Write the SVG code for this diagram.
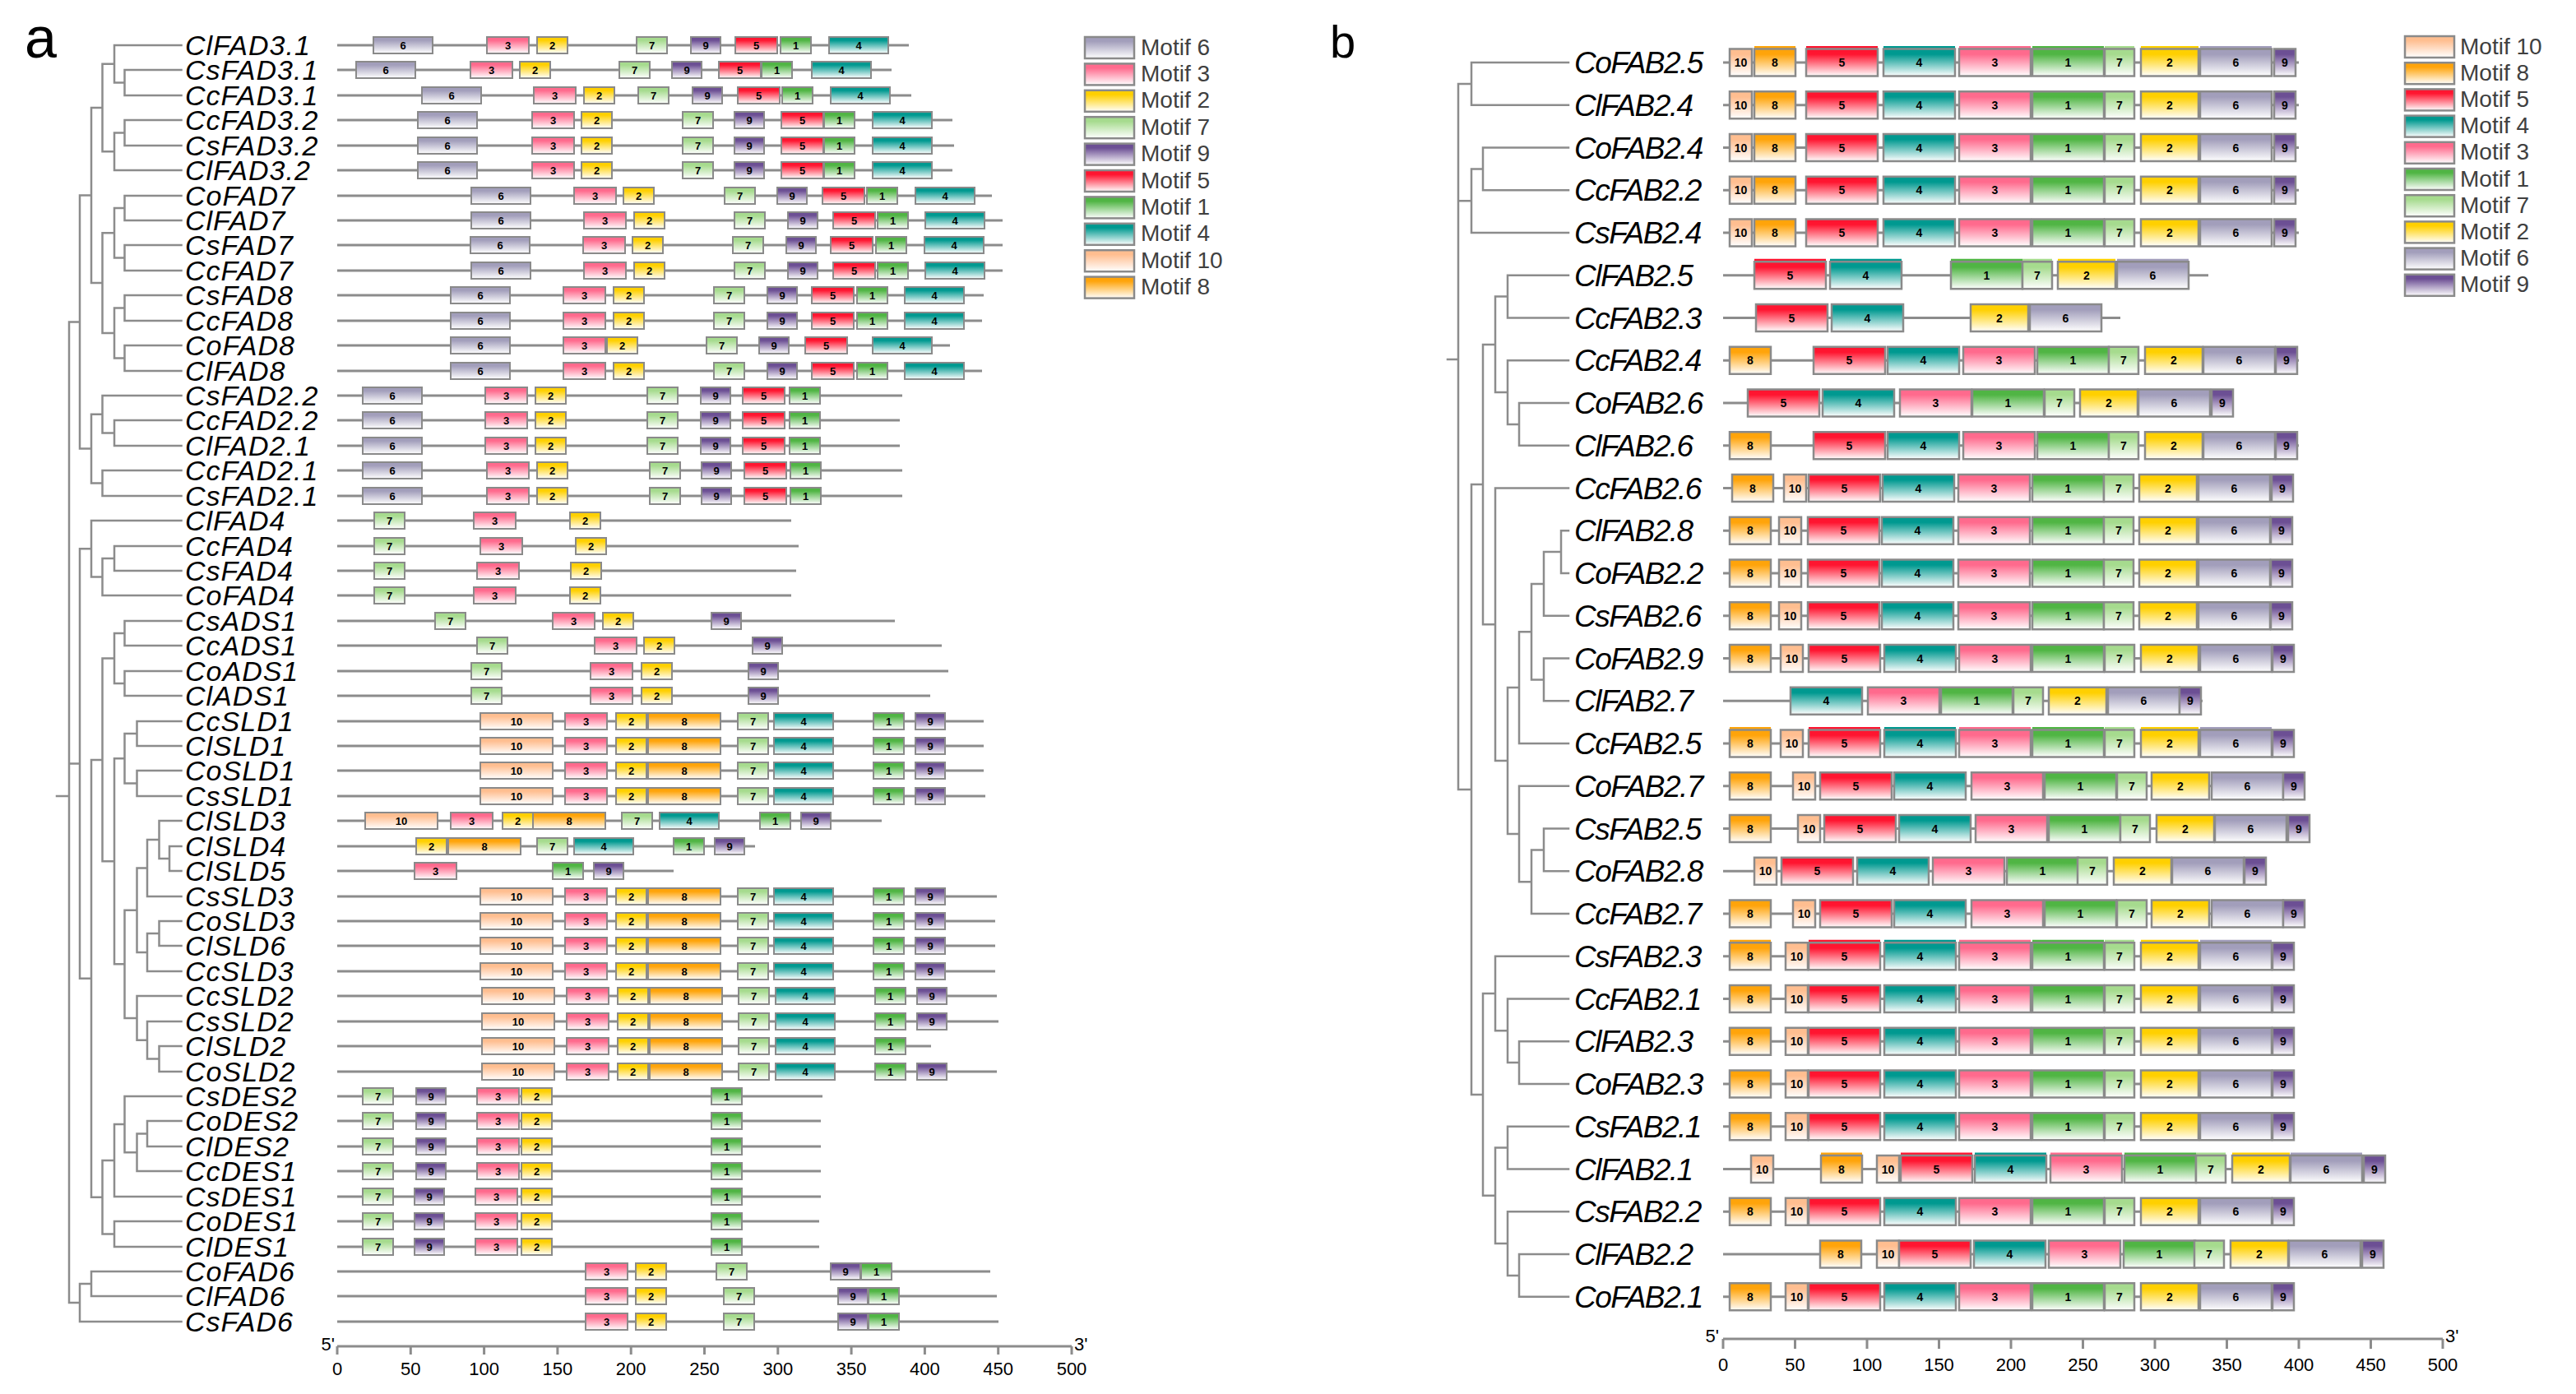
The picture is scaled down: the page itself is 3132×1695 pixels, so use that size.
<svg xmlns="http://www.w3.org/2000/svg" width="3132" height="1695" viewBox="0 0 3132 1695">
<style>
.la{font-family:"Liberation Sans",Arial,sans-serif;font-style:italic;font-size:34px;letter-spacing:1px;fill:#000}
.lb{font-family:"Liberation Sans",Arial,sans-serif;font-style:italic;font-size:37px;letter-spacing:-1.5px;fill:#000}
.lg{font-family:"Liberation Sans",Arial,sans-serif;font-size:28px;fill:#404040}
.ax{font-family:"Liberation Sans",Arial,sans-serif;font-size:22px;text-anchor:middle;fill:#000}
.ae{font-family:"Liberation Sans",Arial,sans-serif;font-size:22px;fill:#000}
.pl{font-family:"Liberation Sans",Arial,sans-serif;fill:#000}
.gl{stroke:#8c8c8c;stroke-width:3;fill:none}
.tr{stroke:#8c8c8c;stroke-width:2.5;fill:none;stroke-linecap:square}
.sw{stroke:#8a8a8a;stroke-width:2.5}
</style>
<defs>
<linearGradient id="g1" x1="0" y1="0" x2="0" y2="1"><stop offset="0" stop-color="#50b544"/><stop offset=".2" stop-color="#50b544"/><stop offset="1" stop-color="#fff"/></linearGradient>
<linearGradient id="g2" x1="0" y1="0" x2="0" y2="1"><stop offset="0" stop-color="#ffd000"/><stop offset=".2" stop-color="#ffd000"/><stop offset="1" stop-color="#fff"/></linearGradient>
<linearGradient id="g3" x1="0" y1="0" x2="0" y2="1"><stop offset="0" stop-color="#ff6a8d"/><stop offset=".2" stop-color="#ff6a8d"/><stop offset="1" stop-color="#fff"/></linearGradient>
<linearGradient id="g4" x1="0" y1="0" x2="0" y2="1"><stop offset="0" stop-color="#009990"/><stop offset=".2" stop-color="#009990"/><stop offset="1" stop-color="#fff"/></linearGradient>
<linearGradient id="g5" x1="0" y1="0" x2="0" y2="1"><stop offset="0" stop-color="#ff1530"/><stop offset=".2" stop-color="#ff1530"/><stop offset="1" stop-color="#fff"/></linearGradient>
<linearGradient id="g6" x1="0" y1="0" x2="0" y2="1"><stop offset="0" stop-color="#a29ebb"/><stop offset=".2" stop-color="#a29ebb"/><stop offset="1" stop-color="#fff"/></linearGradient>
<linearGradient id="g7" x1="0" y1="0" x2="0" y2="1"><stop offset="0" stop-color="#a6db8e"/><stop offset=".2" stop-color="#a6db8e"/><stop offset="1" stop-color="#fff"/></linearGradient>
<linearGradient id="g8" x1="0" y1="0" x2="0" y2="1"><stop offset="0" stop-color="#ffa40a"/><stop offset=".2" stop-color="#ffa40a"/><stop offset="1" stop-color="#fff"/></linearGradient>
<linearGradient id="g9" x1="0" y1="0" x2="0" y2="1"><stop offset="0" stop-color="#6c4f94"/><stop offset=".2" stop-color="#6c4f94"/><stop offset="1" stop-color="#fff"/></linearGradient>
<linearGradient id="g10" x1="0" y1="0" x2="0" y2="1"><stop offset="0" stop-color="#ffbe90"/><stop offset=".2" stop-color="#ffbe90"/><stop offset="1" stop-color="#fff"/></linearGradient>
<g id="A1" font-family="Liberation Sans, Arial, sans-serif" font-weight="bold" font-size="13" text-anchor="middle"><rect y="-10" width="37" height="20" fill="url(#g1)" stroke="#8a8a8a" stroke-width="2"/><text x="18.5" y="4.5">1</text></g>
<g id="A2" font-family="Liberation Sans, Arial, sans-serif" font-weight="bold" font-size="13" text-anchor="middle"><rect y="-10" width="37" height="20" fill="url(#g2)" stroke="#8a8a8a" stroke-width="2"/><text x="18.5" y="4.5">2</text></g>
<g id="A3" font-family="Liberation Sans, Arial, sans-serif" font-weight="bold" font-size="13" text-anchor="middle"><rect y="-10" width="51" height="20" fill="url(#g3)" stroke="#8a8a8a" stroke-width="2"/><text x="25.5" y="4.5">3</text></g>
<g id="A4" font-family="Liberation Sans, Arial, sans-serif" font-weight="bold" font-size="13" text-anchor="middle"><rect y="-10" width="72" height="20" fill="url(#g4)" stroke="#8a8a8a" stroke-width="2"/><text x="36" y="4.5">4</text></g>
<g id="A5" font-family="Liberation Sans, Arial, sans-serif" font-weight="bold" font-size="13" text-anchor="middle"><rect y="-10" width="51" height="20" fill="url(#g5)" stroke="#8a8a8a" stroke-width="2"/><text x="25.5" y="4.5">5</text></g>
<g id="A6" font-family="Liberation Sans, Arial, sans-serif" font-weight="bold" font-size="13" text-anchor="middle"><rect y="-10" width="72" height="20" fill="url(#g6)" stroke="#8a8a8a" stroke-width="2"/><text x="36" y="4.5">6</text></g>
<g id="A7" font-family="Liberation Sans, Arial, sans-serif" font-weight="bold" font-size="13" text-anchor="middle"><rect y="-10" width="37" height="20" fill="url(#g7)" stroke="#8a8a8a" stroke-width="2"/><text x="18.5" y="4.5">7</text></g>
<g id="A8" font-family="Liberation Sans, Arial, sans-serif" font-weight="bold" font-size="13" text-anchor="middle"><rect y="-10" width="88" height="20" fill="url(#g8)" stroke="#8a8a8a" stroke-width="2"/><text x="44" y="4.5">8</text></g>
<g id="A9" font-family="Liberation Sans, Arial, sans-serif" font-weight="bold" font-size="13" text-anchor="middle"><rect y="-10" width="36" height="20" fill="url(#g9)" stroke="#8a8a8a" stroke-width="2"/><text x="18" y="4.5">9</text></g>
<g id="A10" font-family="Liberation Sans, Arial, sans-serif" font-weight="bold" font-size="13" text-anchor="middle"><rect y="-10" width="88" height="20" fill="url(#g10)" stroke="#8a8a8a" stroke-width="2"/><text x="44" y="4.5">10</text></g>
<g id="B1" font-family="Liberation Sans, Arial, sans-serif" font-weight="bold" font-size="14" text-anchor="middle"><rect y="-16.5" width="87" height="33" fill="url(#g1)" stroke="#8a8a8a" stroke-width="2.5"/><text x="43.5" y="5">1</text></g>
<g id="B2" font-family="Liberation Sans, Arial, sans-serif" font-weight="bold" font-size="14" text-anchor="middle"><rect y="-16.5" width="70" height="33" fill="url(#g2)" stroke="#8a8a8a" stroke-width="2.5"/><text x="35" y="5">2</text></g>
<g id="B3" font-family="Liberation Sans, Arial, sans-serif" font-weight="bold" font-size="14" text-anchor="middle"><rect y="-16.5" width="87" height="33" fill="url(#g3)" stroke="#8a8a8a" stroke-width="2.5"/><text x="43.5" y="5">3</text></g>
<g id="B4" font-family="Liberation Sans, Arial, sans-serif" font-weight="bold" font-size="14" text-anchor="middle"><rect y="-16.5" width="87" height="33" fill="url(#g4)" stroke="#8a8a8a" stroke-width="2.5"/><text x="43.5" y="5">4</text></g>
<g id="B5" font-family="Liberation Sans, Arial, sans-serif" font-weight="bold" font-size="14" text-anchor="middle"><rect y="-16.5" width="87" height="33" fill="url(#g5)" stroke="#8a8a8a" stroke-width="2.5"/><text x="43.5" y="5">5</text></g>
<g id="B6" font-family="Liberation Sans, Arial, sans-serif" font-weight="bold" font-size="14" text-anchor="middle"><rect y="-16.5" width="87" height="33" fill="url(#g6)" stroke="#8a8a8a" stroke-width="2.5"/><text x="43.5" y="5">6</text></g>
<g id="B7" font-family="Liberation Sans, Arial, sans-serif" font-weight="bold" font-size="14" text-anchor="middle"><rect y="-16.5" width="36" height="33" fill="url(#g7)" stroke="#8a8a8a" stroke-width="2.5"/><text x="18" y="5">7</text></g>
<g id="B8" font-family="Liberation Sans, Arial, sans-serif" font-weight="bold" font-size="14" text-anchor="middle"><rect y="-16.5" width="50" height="33" fill="url(#g8)" stroke="#8a8a8a" stroke-width="2.5"/><text x="25" y="5">8</text></g>
<g id="B9" font-family="Liberation Sans, Arial, sans-serif" font-weight="bold" font-size="14" text-anchor="middle"><rect y="-16.5" width="26" height="33" fill="url(#g9)" stroke="#8a8a8a" stroke-width="2.5"/><text x="13" y="5">9</text></g>
<g id="B10" font-family="Liberation Sans, Arial, sans-serif" font-weight="bold" font-size="14" text-anchor="middle"><rect y="-16.5" width="27" height="33" fill="url(#g10)" stroke="#8a8a8a" stroke-width="2.5"/><text x="13.5" y="5">10</text></g>
<rect id="S1" y="-20" width="87" height="3" fill="#50b544"/>
<rect id="S2" y="-20" width="70" height="3" fill="#ffd000"/>
<rect id="S3" y="-20" width="87" height="3" fill="#ff6a8d"/>
<rect id="S4" y="-20" width="87" height="3" fill="#009990"/>
<rect id="S5" y="-20" width="87" height="3" fill="#ff1530"/>
<rect id="S6" y="-20" width="87" height="3" fill="#a29ebb"/>
<rect id="S7" y="-20" width="36" height="3" fill="#a6db8e"/>
<rect id="S8" y="-20" width="50" height="3" fill="#ffa40a"/>
</defs>
<rect width="3132" height="1695" fill="#fff"/>
<text class="pl" x="30" y="70" font-size="70">a</text>
<text class="pl" x="1617" y="70" font-size="56">b</text>

<g id="connectors">
<path id="tree-a" class="tr" d="M139 55H220.5M151.5 85H220.5M151.5 116H220.5M151.5 146H220.5M151.5 177H220.5M139 207H220.5M151.5 238H220.5M151.5 268H220.5M151.5 298H220.5M151.5 329H220.5M151.5 359H220.5M151.5 390H220.5M151.5 420H220.5M151.5 451H220.5M124.5 481H220.5M139 511H220.5M139 542H220.5M124.5 572H220.5M124.5 603H220.5M111 633H220.5M139 664H220.5M139 694H220.5M124.5 724H220.5M151.5 755H220.5M151.5 785H220.5M151.5 816H220.5M151.5 846H220.5M166.5 877H220.5M166.5 907H220.5M166.5 937H220.5M166.5 968H220.5M193.5 998H220.5M206 1029H220.5M206 1059H220.5M179 1090H220.5M193.5 1120H220.5M193.5 1150H220.5M179 1181H220.5M166.5 1211H220.5M179 1242H220.5M193.5 1272H220.5M193.5 1303H220.5M151.5 1333H220.5M179 1363H220.5M179 1394H220.5M166.5 1424H220.5M139 1455H220.5M139 1485H220.5M139 1516H220.5M111 1546H220.5M111 1576H220.5M97 1607H220.5
M151.5 85V116M139 100.5H151.5M139 55V100.5M124.5 77.75H139M151.5 146V177M139 161.5H151.5M139 161.5V207M124.5 184.25H139M124.5 77.75V184.25M111 131H124.5
M151.5 238V268M139 253H151.5M151.5 298V329M139 313.5H151.5M139 253V313.5M124.5 283.25H139M151.5 359V390M139 374.5H151.5M151.5 420V451M139 435.5H151.5M139 374.5V435.5M124.5 405H139M124.5 283.25V405M111 344.1H124.5M111 131V344.1M97 237.6H111
M139 511V542M124.5 526.5H139M124.5 481V526.5M111 503.75H124.5M124.5 572V603M111 587.5H124.5M111 503.75V587.5M97 545.6H111M97 237.6V545.6M84 391.6H97
M139 664V694M124.5 679H139M124.5 679V724M111 701.5H124.5M111 633V701.5M97 667.25H111
M151.5 755V785M139 770H151.5M151.5 816V846M139 831H151.5M139 770V831M124.5 800.5H139
M166.5 877V907M151.5 892H166.5M166.5 937V968M151.5 952.5H166.5M151.5 892V952.5M139 922.25H151.5
M206 1029V1059M193.5 1044H206M193.5 998V1044M179 1021H193.5M179 1021V1090M166.5 1055.5H179M193.5 1120V1150M179 1135H193.5M179 1135V1181M166.5 1158H179M166.5 1055.5V1158M151.5 1106.75H166.5
M193.5 1272V1303M179 1287.5H193.5M179 1242V1287.5M166.5 1264.75H179M166.5 1211V1264.75M151.5 1237.9H166.5M151.5 1106.75V1237.9M139 1172.3H151.5M139 922.25V1172.3M124.5 1047.3H139M124.5 800.5V1047.3M111 923.9H124.5
M179 1363V1394M166.5 1378.5H179M166.5 1378.5V1424M151.5 1401.25H166.5M151.5 1333V1401.25M139 1367.1H151.5M139 1367.1V1455M124.5 1411H139M139 1485V1516M124.5 1500.5H139M124.5 1411V1500.5M111 1455.75H124.5M111 923.9V1455.75M97 1189.8H111M97 667.25V1189.8M84 928.5H97
M111 1546V1576M97 1561H111M97 1561V1607M84 1584H97M84 391.6V1584M69 968H84"/>
<path id="tree-b" class="tr" d="M1789 76H1907M1789 127.75H1907M1803 179.5H1907M1803 231.25H1907M1789 283H1907M1833 334.75H1907M1833 386.5H1907M1833 438.25H1907M1847 490H1907M1847 541.75H1907M1818 593.5H1907M1898 645.25H1907M1898 697H1907M1877 748.75H1907M1877 800.5H1907M1877 852.25H1907M1847 904H1907M1847 955.75H1907M1877 1007.5H1907M1877 1059.25H1907M1862 1111H1907M1818 1162.75H1907M1833 1214.5H1907M1847 1266.25H1907M1847 1318H1907M1833 1369.75H1907M1833 1421.5H1907M1833 1473.25H1907M1847 1525H1907M1847 1576.75H1907
M1789 76V127.75M1773 101.9H1789M1803 179.5V231.25M1789 205.4H1803M1789 205.4V283M1773 244.2H1789
M1833 334.75V386.5M1818 360.6H1833M1847 490V541.75M1833 515.9H1847M1833 438.25V515.9M1818 477.1H1833M1818 360.6V477.1M1803 418.9H1818
M1898 645.25V697M1877 671.1H1898M1877 671.1V748.75M1862 709.9H1877M1877 800.5V852.25M1862 826.4H1877M1862 709.9V826.4M1847 768.2H1862M1847 768.2V904M1833 836.1H1847
M1877 1007.5V1059.25M1862 1033.4H1877M1862 1033.4V1111M1847 1072.2H1862M1847 955.75V1072.2M1833 1014H1847M1833 836.1V1014M1818 925H1833M1818 593.5V925M1803 759.3H1818M1803 418.9V759.3M1789 589.1H1803
M1847 1266.25V1318M1833 1292.1H1847M1833 1214.5V1292.1M1818 1253.3H1833M1818 1162.75V1253.3M1803 1208H1818
M1833 1369.75V1421.5M1818 1395.6H1833M1847 1525V1576.75M1833 1550.9H1847M1833 1473.25V1550.9M1818 1512.1H1833M1818 1395.6V1512.1M1803 1453.8H1818M1803 1208V1453.8M1789 1330.9H1803
M1789 589.1V1330.9M1773 960H1789M1773 101.9V960M1760 437H1773"/>
</g>

<g id="panel-a">
<g id="a01" transform="translate(0,55)"><text class="la" x="225" y="12">ClFAD3.1</text><path class="gl" d="M410 0H1105"/><use href="#A6" x="454"/><use href="#A3" x="592"/><use href="#A2" x="653"/><use href="#A7" x="774"/><use href="#A9" x="840"/><use href="#A5" x="894"/><use href="#A1" x="949"/><use href="#A4" x="1008"/></g>
<g id="a02" transform="translate(0,85)"><text class="la" x="225" y="12">CsFAD3.1</text><path class="gl" d="M410 0H1084"/><use href="#A6" x="433"/><use href="#A3" x="572"/><use href="#A2" x="632"/><use href="#A7" x="753"/><use href="#A9" x="817"/><use href="#A5" x="874"/><use href="#A1" x="926"/><use href="#A4" x="987"/></g>
<g id="a03" transform="translate(0,116)"><text class="la" x="225" y="12">CcFAD3.1</text><path class="gl" d="M410 0H1108"/><use href="#A6" x="513"/><use href="#A3" x="649"/><use href="#A2" x="710"/><use href="#A7" x="776"/><use href="#A9" x="842"/><use href="#A5" x="897"/><use href="#A1" x="951"/><use href="#A4" x="1010"/></g>
<g id="a04" transform="translate(0,146)"><text class="la" x="225" y="12">CcFAD3.2</text><path class="gl" d="M410 0H1158"/><use href="#A6" x="508"/><use href="#A3" x="647"/><use href="#A2" x="707"/><use href="#A7" x="830"/><use href="#A9" x="893"/><use href="#A5" x="950"/><use href="#A1" x="1002"/><use href="#A4" x="1061"/></g>
<g id="a05" transform="translate(0,177)"><text class="la" x="225" y="12">CsFAD3.2</text><path class="gl" d="M410 0H1160"/><use href="#A6" x="508"/><use href="#A3" x="647"/><use href="#A2" x="707"/><use href="#A7" x="830"/><use href="#A9" x="893"/><use href="#A5" x="950"/><use href="#A1" x="1002"/><use href="#A4" x="1061"/></g>
<g id="a06" transform="translate(0,207)"><text class="la" x="225" y="12">ClFAD3.2</text><path class="gl" d="M410 0H1158"/><use href="#A6" x="508"/><use href="#A3" x="647"/><use href="#A2" x="707"/><use href="#A7" x="830"/><use href="#A9" x="893"/><use href="#A5" x="950"/><use href="#A1" x="1002"/><use href="#A4" x="1061"/></g>
<g id="a07" transform="translate(0,238)"><text class="la" x="225" y="12">CoFAD7</text><path class="gl" d="M410 0H1206"/><use href="#A6" x="573"/><use href="#A3" x="698"/><use href="#A2" x="758"/><use href="#A7" x="881"/><use href="#A9" x="945"/><use href="#A5" x="1000"/><use href="#A1" x="1054"/><use href="#A4" x="1113"/></g>
<g id="a08" transform="translate(0,268)"><text class="la" x="225" y="12">ClFAD7</text><path class="gl" d="M410 0H1219"/><use href="#A6" x="573"/><use href="#A3" x="710"/><use href="#A2" x="771"/><use href="#A7" x="893"/><use href="#A9" x="958"/><use href="#A5" x="1013"/><use href="#A1" x="1067"/><use href="#A4" x="1125"/></g>
<g id="a09" transform="translate(0,298)"><text class="la" x="225" y="12">CsFAD7</text><path class="gl" d="M410 0H1219"/><use href="#A6" x="572"/><use href="#A3" x="709"/><use href="#A2" x="769"/><use href="#A7" x="891"/><use href="#A9" x="956"/><use href="#A5" x="1010"/><use href="#A1" x="1065"/><use href="#A4" x="1124"/></g>
<g id="a10" transform="translate(0,329)"><text class="la" x="225" y="12">CcFAD7</text><path class="gl" d="M410 0H1219"/><use href="#A6" x="573"/><use href="#A3" x="710"/><use href="#A2" x="771"/><use href="#A7" x="893"/><use href="#A9" x="958"/><use href="#A5" x="1013"/><use href="#A1" x="1067"/><use href="#A4" x="1125"/></g>
<g id="a11" transform="translate(0,359)"><text class="la" x="225" y="12">CsFAD8</text><path class="gl" d="M410 0H1196"/><use href="#A6" x="548"/><use href="#A3" x="685"/><use href="#A2" x="746"/><use href="#A7" x="868"/><use href="#A9" x="933"/><use href="#A5" x="987"/><use href="#A1" x="1042"/><use href="#A4" x="1100"/></g>
<g id="a12" transform="translate(0,390)"><text class="la" x="225" y="12">CcFAD8</text><path class="gl" d="M410 0H1194"/><use href="#A6" x="548"/><use href="#A3" x="685"/><use href="#A2" x="746"/><use href="#A7" x="868"/><use href="#A9" x="933"/><use href="#A5" x="987"/><use href="#A1" x="1042"/><use href="#A4" x="1100"/></g>
<g id="a13" transform="translate(0,420)"><text class="la" x="225" y="12">CoFAD8</text><path class="gl" d="M410 0H1155"/><use href="#A6" x="548"/><use href="#A3" x="685"/><use href="#A2" x="738"/><use href="#A7" x="859"/><use href="#A9" x="923"/><use href="#A5" x="979"/><use href="#A4" x="1061"/></g>
<g id="a14" transform="translate(0,451)"><text class="la" x="225" y="12">ClFAD8</text><path class="gl" d="M410 0H1194"/><use href="#A6" x="548"/><use href="#A3" x="685"/><use href="#A2" x="746"/><use href="#A7" x="868"/><use href="#A9" x="933"/><use href="#A5" x="987"/><use href="#A1" x="1042"/><use href="#A4" x="1100"/></g>
<g id="a15" transform="translate(0,481)"><text class="la" x="225" y="12">CsFAD2.2</text><path class="gl" d="M410 0H1097"/><use href="#A6" x="441"/><use href="#A3" x="590"/><use href="#A2" x="651"/><use href="#A7" x="787"/><use href="#A9" x="852"/><use href="#A5" x="903"/><use href="#A1" x="960"/></g>
<g id="a16" transform="translate(0,511)"><text class="la" x="225" y="12">CcFAD2.2</text><path class="gl" d="M410 0H1094"/><use href="#A6" x="441"/><use href="#A3" x="590"/><use href="#A2" x="651"/><use href="#A7" x="787"/><use href="#A9" x="852"/><use href="#A5" x="903"/><use href="#A1" x="960"/></g>
<g id="a17" transform="translate(0,542)"><text class="la" x="225" y="12">ClFAD2.1</text><path class="gl" d="M410 0H1094"/><use href="#A6" x="441"/><use href="#A3" x="590"/><use href="#A2" x="651"/><use href="#A7" x="787"/><use href="#A9" x="852"/><use href="#A5" x="903"/><use href="#A1" x="960"/></g>
<g id="a18" transform="translate(0,572)"><text class="la" x="225" y="12">CcFAD2.1</text><path class="gl" d="M410 0H1097"/><use href="#A6" x="441"/><use href="#A3" x="592"/><use href="#A2" x="653"/><use href="#A7" x="790"/><use href="#A9" x="853"/><use href="#A5" x="905"/><use href="#A1" x="961"/></g>
<g id="a19" transform="translate(0,603)"><text class="la" x="225" y="12">CsFAD2.1</text><path class="gl" d="M410 0H1097"/><use href="#A6" x="441"/><use href="#A3" x="592"/><use href="#A2" x="653"/><use href="#A7" x="790"/><use href="#A9" x="853"/><use href="#A5" x="905"/><use href="#A1" x="961"/></g>
<g id="a20" transform="translate(0,633)"><text class="la" x="225" y="12">ClFAD4</text><path class="gl" d="M410 0H962"/><use href="#A7" x="455"/><use href="#A3" x="576"/><use href="#A2" x="693"/></g>
<g id="a21" transform="translate(0,664)"><text class="la" x="225" y="12">CcFAD4</text><path class="gl" d="M410 0H971"/><use href="#A7" x="455"/><use href="#A3" x="584"/><use href="#A2" x="700"/></g>
<g id="a22" transform="translate(0,694)"><text class="la" x="225" y="12">CsFAD4</text><path class="gl" d="M410 0H968"/><use href="#A7" x="455"/><use href="#A3" x="580"/><use href="#A2" x="694"/></g>
<g id="a23" transform="translate(0,724)"><text class="la" x="225" y="12">CoFAD4</text><path class="gl" d="M410 0H962"/><use href="#A7" x="455"/><use href="#A3" x="576"/><use href="#A2" x="693"/></g>
<g id="a24" transform="translate(0,755)"><text class="la" x="225" y="12">CsADS1</text><path class="gl" d="M410 0H1088"/><use href="#A7" x="529"/><use href="#A3" x="672"/><use href="#A2" x="733"/><use href="#A9" x="865"/></g>
<g id="a25" transform="translate(0,785)"><text class="la" x="225" y="12">CcADS1</text><path class="gl" d="M410 0H1145"/><use href="#A7" x="580"/><use href="#A3" x="723"/><use href="#A2" x="783"/><use href="#A9" x="915"/></g>
<g id="a26" transform="translate(0,816)"><text class="la" x="225" y="12">CoADS1</text><path class="gl" d="M410 0H1153"/><use href="#A7" x="573"/><use href="#A3" x="718"/><use href="#A2" x="780"/><use href="#A9" x="910"/></g>
<g id="a27" transform="translate(0,846)"><text class="la" x="225" y="12">ClADS1</text><path class="gl" d="M410 0H1131"/><use href="#A7" x="573"/><use href="#A3" x="718"/><use href="#A2" x="780"/><use href="#A9" x="910"/></g>
<g id="a28" transform="translate(0,877)"><text class="la" x="225" y="12">CcSLD1</text><path class="gl" d="M410 0H1196"/><use href="#A10" x="584"/><use href="#A3" x="687"/><use href="#A2" x="749"/><use href="#A8" x="788"/><use href="#A7" x="897"/><use href="#A4" x="941"/><use href="#A1" x="1062"/><use href="#A9" x="1113"/></g>
<g id="a29" transform="translate(0,907)"><text class="la" x="225" y="12">ClSLD1</text><path class="gl" d="M410 0H1196"/><use href="#A10" x="584"/><use href="#A3" x="687"/><use href="#A2" x="749"/><use href="#A8" x="788"/><use href="#A7" x="897"/><use href="#A4" x="941"/><use href="#A1" x="1062"/><use href="#A9" x="1113"/></g>
<g id="a30" transform="translate(0,937)"><text class="la" x="225" y="12">CoSLD1</text><path class="gl" d="M410 0H1196"/><use href="#A10" x="584"/><use href="#A3" x="687"/><use href="#A2" x="749"/><use href="#A8" x="788"/><use href="#A7" x="897"/><use href="#A4" x="941"/><use href="#A1" x="1062"/><use href="#A9" x="1113"/></g>
<g id="a31" transform="translate(0,968)"><text class="la" x="225" y="12">CsSLD1</text><path class="gl" d="M410 0H1198"/><use href="#A10" x="584"/><use href="#A3" x="687"/><use href="#A2" x="749"/><use href="#A8" x="788"/><use href="#A7" x="897"/><use href="#A4" x="941"/><use href="#A1" x="1062"/><use href="#A9" x="1113"/></g>
<g id="a32" transform="translate(0,998)"><text class="la" x="225" y="12">ClSLD3</text><path class="gl" d="M410 0H1072"/><use href="#A10" x="444"/><use href="#A3" x="548"/><use href="#A2" x="611"/><use href="#A8" x="648"/><use href="#A7" x="756"/><use href="#A4" x="802"/><use href="#A1" x="924"/><use href="#A9" x="974"/></g>
<g id="a33" transform="translate(0,1029)"><text class="la" x="225" y="12">ClSLD4</text><path class="gl" d="M410 0H918"/><use href="#A2" x="506"/><use href="#A8" x="545"/><use href="#A7" x="653"/><use href="#A4" x="698"/><use href="#A1" x="819"/><use href="#A9" x="869"/></g>
<g id="a34" transform="translate(0,1059)"><text class="la" x="225" y="12">ClSLD5</text><path class="gl" d="M410 0H819"/><use href="#A3" x="504"/><use href="#A1" x="672"/><use href="#A9" x="722"/></g>
<g id="a35" transform="translate(0,1090)"><text class="la" x="225" y="12">CsSLD3</text><path class="gl" d="M410 0H1212"/><use href="#A10" x="584"/><use href="#A3" x="687"/><use href="#A2" x="749"/><use href="#A8" x="788"/><use href="#A7" x="897"/><use href="#A4" x="941"/><use href="#A1" x="1062"/><use href="#A9" x="1113"/></g>
<g id="a36" transform="translate(0,1120)"><text class="la" x="225" y="12">CoSLD3</text><path class="gl" d="M410 0H1210"/><use href="#A10" x="584"/><use href="#A3" x="687"/><use href="#A2" x="749"/><use href="#A8" x="788"/><use href="#A7" x="897"/><use href="#A4" x="941"/><use href="#A1" x="1062"/><use href="#A9" x="1113"/></g>
<g id="a37" transform="translate(0,1150)"><text class="la" x="225" y="12">ClSLD6</text><path class="gl" d="M410 0H1210"/><use href="#A10" x="584"/><use href="#A3" x="687"/><use href="#A2" x="749"/><use href="#A8" x="788"/><use href="#A7" x="897"/><use href="#A4" x="941"/><use href="#A1" x="1062"/><use href="#A9" x="1113"/></g>
<g id="a38" transform="translate(0,1181)"><text class="la" x="225" y="12">CcSLD3</text><path class="gl" d="M410 0H1210"/><use href="#A10" x="584"/><use href="#A3" x="687"/><use href="#A2" x="749"/><use href="#A8" x="788"/><use href="#A7" x="897"/><use href="#A4" x="941"/><use href="#A1" x="1062"/><use href="#A9" x="1113"/></g>
<g id="a39" transform="translate(0,1211)"><text class="la" x="225" y="12">CcSLD2</text><path class="gl" d="M410 0H1212"/><use href="#A10" x="586"/><use href="#A3" x="689"/><use href="#A2" x="751"/><use href="#A8" x="790"/><use href="#A7" x="898"/><use href="#A4" x="943"/><use href="#A1" x="1064"/><use href="#A9" x="1115"/></g>
<g id="a40" transform="translate(0,1242)"><text class="la" x="225" y="12">CsSLD2</text><path class="gl" d="M410 0H1214"/><use href="#A10" x="586"/><use href="#A3" x="689"/><use href="#A2" x="751"/><use href="#A8" x="790"/><use href="#A7" x="898"/><use href="#A4" x="943"/><use href="#A1" x="1064"/><use href="#A9" x="1115"/></g>
<g id="a41" transform="translate(0,1272)"><text class="la" x="225" y="12">ClSLD2</text><path class="gl" d="M410 0H1132"/><use href="#A10" x="586"/><use href="#A3" x="689"/><use href="#A2" x="751"/><use href="#A8" x="790"/><use href="#A7" x="898"/><use href="#A4" x="943"/><use href="#A1" x="1064"/></g>
<g id="a42" transform="translate(0,1303)"><text class="la" x="225" y="12">CoSLD2</text><path class="gl" d="M410 0H1212"/><use href="#A10" x="586"/><use href="#A3" x="689"/><use href="#A2" x="751"/><use href="#A8" x="790"/><use href="#A7" x="898"/><use href="#A4" x="943"/><use href="#A1" x="1064"/><use href="#A9" x="1115"/></g>
<g id="a43" transform="translate(0,1333)"><text class="la" x="225" y="12">CsDES2</text><path class="gl" d="M410 0H1000"/><use href="#A7" x="441"/><use href="#A9" x="506"/><use href="#A3" x="580"/><use href="#A2" x="634"/><use href="#A1" x="865"/></g>
<g id="a44" transform="translate(0,1363)"><text class="la" x="225" y="12">CoDES2</text><path class="gl" d="M410 0H998"/><use href="#A7" x="441"/><use href="#A9" x="506"/><use href="#A3" x="580"/><use href="#A2" x="634"/><use href="#A1" x="865"/></g>
<g id="a45" transform="translate(0,1394)"><text class="la" x="225" y="12">ClDES2</text><path class="gl" d="M410 0H998"/><use href="#A7" x="441"/><use href="#A9" x="506"/><use href="#A3" x="580"/><use href="#A2" x="634"/><use href="#A1" x="865"/></g>
<g id="a46" transform="translate(0,1424)"><text class="la" x="225" y="12">CcDES1</text><path class="gl" d="M410 0H998"/><use href="#A7" x="441"/><use href="#A9" x="506"/><use href="#A3" x="580"/><use href="#A2" x="634"/><use href="#A1" x="865"/></g>
<g id="a47" transform="translate(0,1455)"><text class="la" x="225" y="12">CsDES1</text><path class="gl" d="M410 0H998"/><use href="#A7" x="441"/><use href="#A9" x="504"/><use href="#A3" x="578"/><use href="#A2" x="634"/><use href="#A1" x="865"/></g>
<g id="a48" transform="translate(0,1485)"><text class="la" x="225" y="12">CoDES1</text><path class="gl" d="M410 0H996"/><use href="#A7" x="441"/><use href="#A9" x="504"/><use href="#A3" x="578"/><use href="#A2" x="634"/><use href="#A1" x="865"/></g>
<g id="a49" transform="translate(0,1516)"><text class="la" x="225" y="12">ClDES1</text><path class="gl" d="M410 0H996"/><use href="#A7" x="441"/><use href="#A9" x="504"/><use href="#A3" x="578"/><use href="#A2" x="634"/><use href="#A1" x="865"/></g>
<g id="a50" transform="translate(0,1546)"><text class="la" x="225" y="12">CoFAD6</text><path class="gl" d="M410 0H1204"/><use href="#A3" x="712"/><use href="#A2" x="773"/><use href="#A7" x="871"/><use href="#A9" x="1010"/><use href="#A1" x="1047"/></g>
<g id="a51" transform="translate(0,1576)"><text class="la" x="225" y="12">ClFAD6</text><path class="gl" d="M410 0H1212"/><use href="#A3" x="712"/><use href="#A2" x="773"/><use href="#A7" x="880"/><use href="#A9" x="1019"/><use href="#A1" x="1056"/></g>
<g id="a52" transform="translate(0,1607)"><text class="la" x="225" y="12">CsFAD6</text><path class="gl" d="M410 0H1214"/><use href="#A3" x="712"/><use href="#A2" x="773"/><use href="#A7" x="880"/><use href="#A9" x="1019"/><use href="#A1" x="1056"/></g>
</g>

<g id="axis-a">
<path class="gl" d="M410 1637H1303M410 1637V1647M499.3 1637V1647M588.6 1637V1647M677.9 1637V1647M767.2 1637V1647M856.5 1637V1647M945.8 1637V1647M1035.1 1637V1647M1124.4 1637V1647M1213.7 1637V1647M1303 1637V1647"/>
<text class="ae" x="407" y="1642" text-anchor="end">5'</text><text class="ae" x="1306" y="1642">3'</text>
<text class="ax" x="410" y="1672">0</text><text class="ax" x="499.3" y="1672">50</text><text class="ax" x="588.6" y="1672">100</text><text class="ax" x="677.9" y="1672">150</text><text class="ax" x="767.2" y="1672">200</text><text class="ax" x="856.5" y="1672">250</text><text class="ax" x="945.8" y="1672">300</text><text class="ax" x="1035.1" y="1672">350</text><text class="ax" x="1124.4" y="1672">400</text><text class="ax" x="1213.7" y="1672">450</text><text class="ax" x="1303" y="1672">500</text>
</g>

<g id="legend-a">
<rect class="sw" x="1319" y="45" width="60" height="26" fill="url(#g6)"/><text class="lg" x="1387" y="66.5">Motif 6</text>
<rect class="sw" x="1319" y="77.4" width="60" height="26" fill="url(#g3)"/><text class="lg" x="1387" y="98.9">Motif 3</text>
<rect class="sw" x="1319" y="109.8" width="60" height="26" fill="url(#g2)"/><text class="lg" x="1387" y="131.3">Motif 2</text>
<rect class="sw" x="1319" y="142.2" width="60" height="26" fill="url(#g7)"/><text class="lg" x="1387" y="163.7">Motif 7</text>
<rect class="sw" x="1319" y="174.6" width="60" height="26" fill="url(#g9)"/><text class="lg" x="1387" y="196.1">Motif 9</text>
<rect class="sw" x="1319" y="207" width="60" height="26" fill="url(#g5)"/><text class="lg" x="1387" y="228.5">Motif 5</text>
<rect class="sw" x="1319" y="239.4" width="60" height="26" fill="url(#g1)"/><text class="lg" x="1387" y="260.9">Motif 1</text>
<rect class="sw" x="1319" y="271.8" width="60" height="26" fill="url(#g4)"/><text class="lg" x="1387" y="293.3">Motif 4</text>
<rect class="sw" x="1319" y="304.2" width="60" height="26" fill="url(#g10)"/><text class="lg" x="1387" y="325.7">Motif 10</text>
<rect class="sw" x="1319" y="336.6" width="60" height="26" fill="url(#g8)"/><text class="lg" x="1387" y="358.1">Motif 8</text>
</g>

<g id="panel-b">
<g id="b01" transform="translate(0,76)"><text class="lb" x="1914" y="13">CoFAB2.5</text><path class="gl" d="M2095 0H2795"/><use href="#S8" x="2133"/><use href="#S5" x="2196"/><use href="#S4" x="2290"/><use href="#S3" x="2382"/><use href="#S1" x="2471"/><use href="#S7" x="2559"/><use href="#S2" x="2603"/><use href="#S6" x="2675"/><use href="#B10" x="2103"/><use href="#B8" x="2133"/><use href="#B5" x="2196"/><use href="#B4" x="2290"/><use href="#B3" x="2382"/><use href="#B1" x="2471"/><use href="#B7" x="2559"/><use href="#B2" x="2603"/><use href="#B6" x="2675"/><use href="#B9" x="2765"/></g>
<g id="b02" transform="translate(0,127.75)"><text class="lb" x="1914" y="13">ClFAB2.4</text><path class="gl" d="M2095 0H2795"/><use href="#B10" x="2103"/><use href="#B8" x="2133"/><use href="#B5" x="2196"/><use href="#B4" x="2290"/><use href="#B3" x="2382"/><use href="#B1" x="2471"/><use href="#B7" x="2559"/><use href="#B2" x="2603"/><use href="#B6" x="2675"/><use href="#B9" x="2765"/></g>
<g id="b03" transform="translate(0,179.5)"><text class="lb" x="1914" y="13">CoFAB2.4</text><path class="gl" d="M2095 0H2795"/><use href="#B10" x="2103"/><use href="#B8" x="2133"/><use href="#B5" x="2196"/><use href="#B4" x="2290"/><use href="#B3" x="2382"/><use href="#B1" x="2471"/><use href="#B7" x="2559"/><use href="#B2" x="2603"/><use href="#B6" x="2675"/><use href="#B9" x="2765"/></g>
<g id="b04" transform="translate(0,231.25)"><text class="lb" x="1914" y="13">CcFAB2.2</text><path class="gl" d="M2095 0H2795"/><use href="#B10" x="2103"/><use href="#B8" x="2133"/><use href="#B5" x="2196"/><use href="#B4" x="2290"/><use href="#B3" x="2382"/><use href="#B1" x="2471"/><use href="#B7" x="2559"/><use href="#B2" x="2603"/><use href="#B6" x="2675"/><use href="#B9" x="2765"/></g>
<g id="b05" transform="translate(0,283)"><text class="lb" x="1914" y="13">CsFAB2.4</text><path class="gl" d="M2095 0H2795"/><use href="#B10" x="2103"/><use href="#B8" x="2133"/><use href="#B5" x="2196"/><use href="#B4" x="2290"/><use href="#B3" x="2382"/><use href="#B1" x="2471"/><use href="#B7" x="2559"/><use href="#B2" x="2603"/><use href="#B6" x="2675"/><use href="#B9" x="2765"/></g>
<g id="b06" transform="translate(0,334.75)"><text class="lb" x="1914" y="13">ClFAB2.5</text><path class="gl" d="M2095 0H2685"/><use href="#S5" x="2133"/><use href="#S4" x="2225"/><use href="#S1" x="2372"/><use href="#S7" x="2459"/><use href="#S2" x="2502"/><use href="#S6" x="2574"/><use href="#B5" x="2133"/><use href="#B4" x="2225"/><use href="#B1" x="2372"/><use href="#B7" x="2459"/><use href="#B2" x="2502"/><use href="#B6" x="2574"/></g>
<g id="b07" transform="translate(0,386.5)"><text class="lb" x="1914" y="13">CcFAB2.3</text><path class="gl" d="M2095 0H2578"/><use href="#B5" x="2135"/><use href="#B4" x="2227"/><use href="#B2" x="2396"/><use href="#B6" x="2468"/></g>
<g id="b08" transform="translate(0,438.25)"><text class="lb" x="1914" y="13">CcFAB2.4</text><path class="gl" d="M2095 0H2795"/><use href="#B8" x="2103"/><use href="#B5" x="2205"/><use href="#B4" x="2295"/><use href="#B3" x="2387"/><use href="#B1" x="2477"/><use href="#B7" x="2564"/><use href="#B2" x="2608"/><use href="#B6" x="2679"/><use href="#B9" x="2767"/></g>
<g id="b09" transform="translate(0,490)"><text class="lb" x="1914" y="13">CoFAB2.6</text><path class="gl" d="M2095 0H2716"/><use href="#B5" x="2125"/><use href="#B4" x="2216"/><use href="#B3" x="2310"/><use href="#B1" x="2398"/><use href="#B7" x="2486"/><use href="#B2" x="2529"/><use href="#B6" x="2600"/><use href="#B9" x="2689"/></g>
<g id="b10" transform="translate(0,541.75)"><text class="lb" x="1914" y="13">ClFAB2.6</text><path class="gl" d="M2095 0H2795"/><use href="#B8" x="2103"/><use href="#B5" x="2205"/><use href="#B4" x="2295"/><use href="#B3" x="2387"/><use href="#B1" x="2477"/><use href="#B7" x="2564"/><use href="#B2" x="2608"/><use href="#B6" x="2679"/><use href="#B9" x="2767"/></g>
<g id="b11" transform="translate(0,593.5)"><text class="lb" x="1914" y="13">CcFAB2.6</text><path class="gl" d="M2095 0H2788"/><use href="#B8" x="2106"/><use href="#B10" x="2169"/><use href="#B5" x="2199"/><use href="#B4" x="2289"/><use href="#B3" x="2381"/><use href="#B1" x="2471"/><use href="#B7" x="2558"/><use href="#B2" x="2601"/><use href="#B6" x="2673"/><use href="#B9" x="2762"/></g>
<g id="b12" transform="translate(0,645.25)"><text class="lb" x="1914" y="13">ClFAB2.8</text><path class="gl" d="M2095 0H2786"/><use href="#B8" x="2103"/><use href="#B10" x="2163"/><use href="#B5" x="2198"/><use href="#B4" x="2288"/><use href="#B3" x="2381"/><use href="#B1" x="2471"/><use href="#B7" x="2558"/><use href="#B2" x="2601"/><use href="#B6" x="2673"/><use href="#B9" x="2761"/></g>
<g id="b13" transform="translate(0,697)"><text class="lb" x="1914" y="13">CoFAB2.2</text><path class="gl" d="M2095 0H2786"/><use href="#B8" x="2103"/><use href="#B10" x="2163"/><use href="#B5" x="2198"/><use href="#B4" x="2288"/><use href="#B3" x="2381"/><use href="#B1" x="2471"/><use href="#B7" x="2558"/><use href="#B2" x="2601"/><use href="#B6" x="2673"/><use href="#B9" x="2761"/></g>
<g id="b14" transform="translate(0,748.75)"><text class="lb" x="1914" y="13">CsFAB2.6</text><path class="gl" d="M2095 0H2786"/><use href="#B8" x="2103"/><use href="#B10" x="2163"/><use href="#B5" x="2198"/><use href="#B4" x="2288"/><use href="#B3" x="2381"/><use href="#B1" x="2471"/><use href="#B7" x="2558"/><use href="#B2" x="2601"/><use href="#B6" x="2673"/><use href="#B9" x="2761"/></g>
<g id="b15" transform="translate(0,800.5)"><text class="lb" x="1914" y="13">CoFAB2.9</text><path class="gl" d="M2095 0H2788"/><use href="#B8" x="2103"/><use href="#B10" x="2165"/><use href="#B5" x="2199"/><use href="#B4" x="2291"/><use href="#B3" x="2382"/><use href="#B1" x="2471"/><use href="#B7" x="2559"/><use href="#B2" x="2603"/><use href="#B6" x="2675"/><use href="#B9" x="2763"/></g>
<g id="b16" transform="translate(0,852.25)"><text class="lb" x="1914" y="13">ClFAB2.7</text><path class="gl" d="M2095 0H2678"/><use href="#B4" x="2177"/><use href="#B3" x="2271"/><use href="#B1" x="2360"/><use href="#B7" x="2448"/><use href="#B2" x="2491"/><use href="#B6" x="2563"/><use href="#B9" x="2650"/></g>
<g id="b17" transform="translate(0,904)"><text class="lb" x="1914" y="13">CcFAB2.5</text><path class="gl" d="M2095 0H2788"/><use href="#S8" x="2103"/><use href="#S5" x="2199"/><use href="#S4" x="2291"/><use href="#S3" x="2382"/><use href="#S1" x="2471"/><use href="#S7" x="2559"/><use href="#S2" x="2603"/><use href="#S6" x="2675"/><use href="#B8" x="2103"/><use href="#B10" x="2165"/><use href="#B5" x="2199"/><use href="#B4" x="2291"/><use href="#B3" x="2382"/><use href="#B1" x="2471"/><use href="#B7" x="2559"/><use href="#B2" x="2603"/><use href="#B6" x="2675"/><use href="#B9" x="2763"/></g>
<g id="b18" transform="translate(0,955.75)"><text class="lb" x="1914" y="13">CoFAB2.7</text><path class="gl" d="M2095 0H2803"/><use href="#B8" x="2103"/><use href="#B10" x="2180"/><use href="#B5" x="2213"/><use href="#B4" x="2303"/><use href="#B3" x="2397"/><use href="#B1" x="2486"/><use href="#B7" x="2574"/><use href="#B2" x="2616"/><use href="#B6" x="2689"/><use href="#B9" x="2776"/></g>
<g id="b19" transform="translate(0,1007.5)"><text class="lb" x="1914" y="13">CsFAB2.5</text><path class="gl" d="M2095 0H2809"/><use href="#B8" x="2103"/><use href="#B10" x="2186"/><use href="#B5" x="2218"/><use href="#B4" x="2309"/><use href="#B3" x="2402"/><use href="#B1" x="2491"/><use href="#B7" x="2578"/><use href="#B2" x="2622"/><use href="#B6" x="2693"/><use href="#B9" x="2782"/></g>
<g id="b20" transform="translate(0,1059.25)"><text class="lb" x="1914" y="13">CoFAB2.8</text><path class="gl" d="M2095 0H2752"/><use href="#B10" x="2133"/><use href="#B5" x="2166"/><use href="#B4" x="2258"/><use href="#B3" x="2350"/><use href="#B1" x="2440"/><use href="#B7" x="2526"/><use href="#B2" x="2570"/><use href="#B6" x="2641"/><use href="#B9" x="2729"/></g>
<g id="b21" transform="translate(0,1111)"><text class="lb" x="1914" y="13">CcFAB2.7</text><path class="gl" d="M2095 0H2803"/><use href="#B8" x="2103"/><use href="#B10" x="2180"/><use href="#B5" x="2213"/><use href="#B4" x="2303"/><use href="#B3" x="2397"/><use href="#B1" x="2486"/><use href="#B7" x="2574"/><use href="#B2" x="2616"/><use href="#B6" x="2689"/><use href="#B9" x="2776"/></g>
<g id="b22" transform="translate(0,1162.75)"><text class="lb" x="1914" y="13">CsFAB2.3</text><path class="gl" d="M2095 0H2790"/><use href="#S8" x="2103"/><use href="#S5" x="2199"/><use href="#S4" x="2291"/><use href="#S3" x="2382"/><use href="#S1" x="2471"/><use href="#S7" x="2559"/><use href="#S2" x="2603"/><use href="#S6" x="2675"/><use href="#B8" x="2103"/><use href="#B10" x="2171"/><use href="#B5" x="2199"/><use href="#B4" x="2291"/><use href="#B3" x="2382"/><use href="#B1" x="2471"/><use href="#B7" x="2559"/><use href="#B2" x="2603"/><use href="#B6" x="2675"/><use href="#B9" x="2763"/></g>
<g id="b23" transform="translate(0,1214.5)"><text class="lb" x="1914" y="13">CcFAB2.1</text><path class="gl" d="M2095 0H2790"/><use href="#B8" x="2103"/><use href="#B10" x="2171"/><use href="#B5" x="2199"/><use href="#B4" x="2291"/><use href="#B3" x="2382"/><use href="#B1" x="2471"/><use href="#B7" x="2559"/><use href="#B2" x="2603"/><use href="#B6" x="2675"/><use href="#B9" x="2763"/></g>
<g id="b24" transform="translate(0,1266.25)"><text class="lb" x="1914" y="13">ClFAB2.3</text><path class="gl" d="M2095 0H2790"/><use href="#B8" x="2103"/><use href="#B10" x="2171"/><use href="#B5" x="2199"/><use href="#B4" x="2291"/><use href="#B3" x="2382"/><use href="#B1" x="2471"/><use href="#B7" x="2559"/><use href="#B2" x="2603"/><use href="#B6" x="2675"/><use href="#B9" x="2763"/></g>
<g id="b25" transform="translate(0,1318)"><text class="lb" x="1914" y="13">CoFAB2.3</text><path class="gl" d="M2095 0H2790"/><use href="#B8" x="2103"/><use href="#B10" x="2171"/><use href="#B5" x="2199"/><use href="#B4" x="2291"/><use href="#B3" x="2382"/><use href="#B1" x="2471"/><use href="#B7" x="2559"/><use href="#B2" x="2603"/><use href="#B6" x="2675"/><use href="#B9" x="2763"/></g>
<g id="b26" transform="translate(0,1369.75)"><text class="lb" x="1914" y="13">CsFAB2.1</text><path class="gl" d="M2095 0H2790"/><use href="#B8" x="2103"/><use href="#B10" x="2171"/><use href="#B5" x="2199"/><use href="#B4" x="2291"/><use href="#B3" x="2382"/><use href="#B1" x="2471"/><use href="#B7" x="2559"/><use href="#B2" x="2603"/><use href="#B6" x="2675"/><use href="#B9" x="2763"/></g>
<g id="b27" transform="translate(0,1421.5)"><text class="lb" x="1914" y="13">ClFAB2.1</text><path class="gl" d="M2095 0H2900"/><use href="#S8" x="2214"/><use href="#S5" x="2311"/><use href="#S4" x="2401"/><use href="#S3" x="2493"/><use href="#S1" x="2583"/><use href="#S7" x="2670"/><use href="#S2" x="2714"/><use href="#S6" x="2785"/><use href="#B10" x="2129"/><use href="#B8" x="2214"/><use href="#B10" x="2282"/><use href="#B5" x="2311"/><use href="#B4" x="2401"/><use href="#B3" x="2493"/><use href="#B1" x="2583"/><use href="#B7" x="2670"/><use href="#B2" x="2714"/><use href="#B6" x="2785"/><use href="#B9" x="2874"/></g>
<g id="b28" transform="translate(0,1473.25)"><text class="lb" x="1914" y="13">CsFAB2.2</text><path class="gl" d="M2095 0H2790"/><use href="#B8" x="2103"/><use href="#B10" x="2171"/><use href="#B5" x="2199"/><use href="#B4" x="2291"/><use href="#B3" x="2382"/><use href="#B1" x="2471"/><use href="#B7" x="2559"/><use href="#B2" x="2603"/><use href="#B6" x="2675"/><use href="#B9" x="2763"/></g>
<g id="b29" transform="translate(0,1525)"><text class="lb" x="1914" y="13">ClFAB2.2</text><path class="gl" d="M2095 0H2897"/><use href="#B8" x="2213"/><use href="#B10" x="2282"/><use href="#B5" x="2309"/><use href="#B4" x="2400"/><use href="#B3" x="2491"/><use href="#B1" x="2582"/><use href="#B7" x="2668"/><use href="#B2" x="2712"/><use href="#B6" x="2783"/><use href="#B9" x="2872"/></g>
<g id="b30" transform="translate(0,1576.75)"><text class="lb" x="1914" y="13">CoFAB2.1</text><path class="gl" d="M2095 0H2790"/><use href="#B8" x="2103"/><use href="#B10" x="2171"/><use href="#B5" x="2199"/><use href="#B4" x="2291"/><use href="#B3" x="2382"/><use href="#B1" x="2471"/><use href="#B7" x="2559"/><use href="#B2" x="2603"/><use href="#B6" x="2675"/><use href="#B9" x="2763"/></g>
</g>

<g id="axis-b">
<path class="gl" d="M2095 1628H2970M2095 1628V1640M2182.5 1628V1640M2270 1628V1640M2357.5 1628V1640M2445 1628V1640M2532.5 1628V1640M2620 1628V1640M2707.5 1628V1640M2795 1628V1640M2882.5 1628V1640M2970 1628V1640"/>
<text class="ae" x="2090" y="1632" text-anchor="end">5'</text><text class="ae" x="2973" y="1632">3'</text>
<text class="ax" x="2095" y="1667">0</text><text class="ax" x="2182.5" y="1667">50</text><text class="ax" x="2270" y="1667">100</text><text class="ax" x="2357.5" y="1667">150</text><text class="ax" x="2445" y="1667">200</text><text class="ax" x="2532.5" y="1667">250</text><text class="ax" x="2620" y="1667">300</text><text class="ax" x="2707.5" y="1667">350</text><text class="ax" x="2795" y="1667">400</text><text class="ax" x="2882.5" y="1667">450</text><text class="ax" x="2970" y="1667">500</text>
</g>

<g id="legend-b">
<rect class="sw" x="2924" y="44" width="60" height="26" fill="url(#g10)"/><text class="lg" x="2991" y="65.5">Motif 10</text>
<rect class="sw" x="2924" y="76.2" width="60" height="26" fill="url(#g8)"/><text class="lg" x="2991" y="97.7">Motif 8</text>
<rect class="sw" x="2924" y="108.4" width="60" height="26" fill="url(#g5)"/><text class="lg" x="2991" y="129.9">Motif 5</text>
<rect class="sw" x="2924" y="140.6" width="60" height="26" fill="url(#g4)"/><text class="lg" x="2991" y="162.1">Motif 4</text>
<rect class="sw" x="2924" y="172.8" width="60" height="26" fill="url(#g3)"/><text class="lg" x="2991" y="194.3">Motif 3</text>
<rect class="sw" x="2924" y="205" width="60" height="26" fill="url(#g1)"/><text class="lg" x="2991" y="226.5">Motif 1</text>
<rect class="sw" x="2924" y="237.2" width="60" height="26" fill="url(#g7)"/><text class="lg" x="2991" y="258.7">Motif 7</text>
<rect class="sw" x="2924" y="269.4" width="60" height="26" fill="url(#g2)"/><text class="lg" x="2991" y="290.9">Motif 2</text>
<rect class="sw" x="2924" y="301.6" width="60" height="26" fill="url(#g6)"/><text class="lg" x="2991" y="323.1">Motif 6</text>
<rect class="sw" x="2924" y="333.8" width="60" height="26" fill="url(#g9)"/><text class="lg" x="2991" y="355.3">Motif 9</text>
</g>
</svg>
